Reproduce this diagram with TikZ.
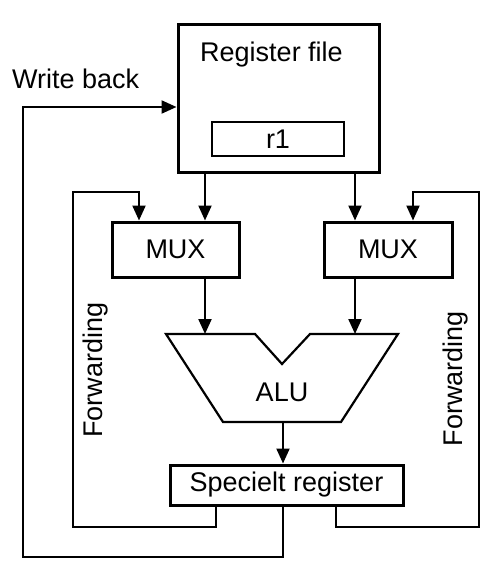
\documentclass[tikz,border=0pt]{standalone}
\usepackage{fontspec}
\setmainfont{Liberation Sans}
\usetikzlibrary{arrows.meta}
\begin{document}
\begin{tikzpicture}[x=1pt,y=-1pt,
  box/.style={draw,line width=3pt,inner sep=0pt,font=\fontsize{27}{30}\selectfont},
  lbl/.style={inner sep=0pt,font=\fontsize{27}{30}\selectfont},
  wire/.style={line width=2.2pt},
  arr/.style={wire,-{Triangle[length=15pt,width=13pt]}}]
\useasboundingbox (0,0) rectangle (499,567);
% boxes
\node[box,minimum width=201pt,minimum height=147pt] (rf) at (278.5,98.5) {};
\node[lbl,anchor=base] (rft) at (271.5,62) {Register file};
\node[box,line width=2.5pt,minimum width=132pt,minimum height=34pt] (r1) at (278,139) {r1};
\node[box,minimum width=127pt,minimum height=55pt] (mxL) at (175.5,249.5) {MUX};
\node[box,minimum width=128pt,minimum height=55pt] (mxR) at (388,249.5) {MUX};
\node[box,minimum width=233pt,minimum height=40pt] (spec) at (286.5,485) {Specielt register};
% ALU
\draw[wire,line join=miter] (166,334) -- (255,334) -- (282,364) -- (310,334) -- (398,334) -- (341,422) -- (223,422) -- cycle;
\coordinate (aluT) at (283,334);
\coordinate (aluB) at (283,422);
\node[lbl] (alu) at (282,392.5) {ALU};
% labels
\node[lbl,anchor=base west] (wb) at (12,89) {Write back};
\node[lbl,rotate=90] (fwL) at (96,370) {Forwarding};
\node[lbl,rotate=90] (fwR) at (456,378.5) {Forwarding};
% x positions
\coordinate (xA) at (205,334);
\coordinate (xB) at (355,334);
\coordinate (xFL) at (139,0);
\coordinate (xFR) at (413,0);
\coordinate (sL) at (216,0);
\coordinate (sR) at (336,0);
\coordinate (sW) at (283,0);
\coordinate (cFL) at (73,527);
\coordinate (cFLt) at (139,192);
\coordinate (cFR) at (479,527);
\coordinate (cFRt) at (413,192);
\coordinate (cWB) at (23,557);
\coordinate (yWB) at (0,107);
% register file to mux
\draw[arr] (rf.south -| xA) -- (mxL.north -| xA);
\draw[arr] (rf.south -| xB) -- (mxR.north -| xB);
% mux to alu
\draw[arr] (mxL.south -| xA) -- (xA);
\draw[arr] (mxR.south -| xB) -- (xB);
% alu to register
\draw[arr] (aluB) -- (spec.north -| aluB);
% forwarding
\draw[arr,line join=miter] (spec.south -| sL) |- (cFL) |- (cFLt) -- (mxL.north -| xFL);
\draw[arr,line join=miter] (spec.south -| sR) |- (cFR) |- (cFRt) -- (mxR.north -| xFR);
% write back
\draw[arr,line join=miter] (spec.south -| sW) |- (cWB) |- (rf.west |- yWB);
\end{tikzpicture}
\end{document}
